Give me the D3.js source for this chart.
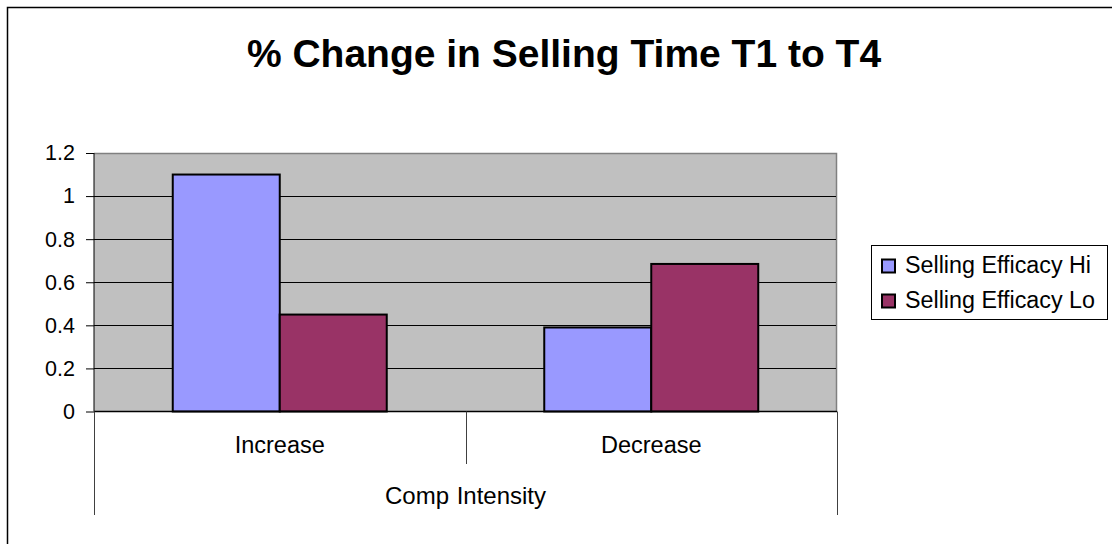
<!DOCTYPE html>
<html>
<head>
<meta charset="utf-8">
<script src="https://cdn.jsdelivr.net/npm/d3@7"></script>
<style>
  html, body { margin: 0; padding: 0; background: #fff; }
  svg { display: block; font-family: Arial, "Liberation Sans", sans-serif; }
</style>
</head>
<body>
<svg id="chart" width="1112" height="544"></svg>
<script>
// ---- data ----
const categories = ["Increase", "Decrease"];
const seriesNames = ["Selling Efficacy Hi", "Selling Efficacy Lo"];
const hiValues = [1.10, 0.39];
const loValues = [0.45, 0.685];
const seriesColors = ["#9999FF", "#993366"];
const yTickValues = [0, 0.2, 0.4, 0.6, 0.8, 1.0, 1.2];
const yTickLabels = ["0", "0.2", "0.4", "0.6", "0.8", "1", "1.2"];
const chartTitle = "% Change in Selling Time T1 to T4";
const axisTitle = "Comp Intensity";

// ---- layout ----
const svg = d3.select("#chart");
const plot = { left: 94, right: 837, top: 153, bottom: 411.5 };

// outer chart border (right/bottom cropped in reference)
svg.append("rect")
  .attr("x", 7.5).attr("y", 7.5)
  .attr("width", 1300).attr("height", 700)
  .attr("fill", "#fff").attr("stroke", "#000").attr("stroke-width", 1.5);

// title
svg.append("text")
  .attr("x", 564).attr("y", 66.5)
  .attr("text-anchor", "middle")
  .attr("font-size", 39).attr("font-weight", "bold")
  .text(chartTitle);

const y = d3.scaleLinear().domain([0, 1.2]).range([plot.bottom, plot.top]);
const x0 = d3.scaleBand().domain(categories).range([plot.left, plot.right]).paddingInner(0).paddingOuter(0);
const x1 = d3.scaleBand().domain(seriesNames).range([0, x0.bandwidth()]).paddingInner(0).paddingOuter(0.736);

// plot background
svg.append("rect")
  .attr("x", plot.left).attr("y", plot.top)
  .attr("width", plot.right - plot.left).attr("height", plot.bottom - plot.top)
  .attr("fill", "#C0C0C0");

// plot border top/right (gray)
svg.append("path")
  .attr("d", `M${plot.left},${plot.top + 0.5}H${plot.right - 0.5}V${plot.bottom}`)
  .attr("fill", "none").attr("stroke", "#808080").attr("stroke-width", 1.5);

// gridlines
svg.append("g")
  .selectAll("line")
  .data(yTickValues.filter(v => v > 0 && v < 1.2))
  .join("line")
  .attr("x1", plot.left).attr("x2", plot.right - 1)
  .attr("y1", d => Math.round(y(d)) + 0.5).attr("y2", d => Math.round(y(d)) + 0.5)
  .attr("stroke", "#000").attr("stroke-width", 1);

// bars
const seriesValues = [hiValues, loValues];
const barData = [];
categories.forEach((c, i) => {
  seriesNames.forEach((s, j) => {
    barData.push({ cat: c, series: s, value: seriesValues[j][i], color: seriesColors[j] });
  });
});
svg.append("g")
  .selectAll("rect")
  .data(barData)
  .join("rect")
  .attr("x", d => x0(d.cat) + x1(d.series))
  .attr("y", d => y(d.value))
  .attr("width", x1.bandwidth())
  .attr("height", d => y(0) - y(d.value))
  .attr("fill", d => d.color)
  .attr("stroke", "#000").attr("stroke-width", 2);

// y axis
const yAxis = d3.axisLeft(y)
  .tickValues(yTickValues)
  .tickFormat((d, i) => yTickLabels[i])
  .tickSize(8).tickPadding(11);
const yg = svg.append("g")
  .attr("transform", `translate(${plot.left},0)`)
  .call(yAxis);
yg.select(".domain").attr("stroke", "#000").attr("d", `M0,${plot.top}V${plot.bottom}`);
yg.selectAll(".tick line").attr("stroke", "#000");
yg.selectAll(".tick text")
  .attr("font-size", 21.5).attr("fill", "#000")
  .attr("font-family", 'Arial, "Liberation Sans", sans-serif');

// x axis baseline
svg.append("line")
  .attr("x1", plot.left).attr("x2", plot.right)
  .attr("y1", plot.bottom).attr("y2", plot.bottom)
  .attr("stroke", "#000").attr("stroke-width", 1.5);

// category separators
const sepX = [x0.range()[0], ...categories.slice(1).map(c => x0(c)), x0.range()[1]];
svg.append("g")
  .selectAll("line")
  .data(sepX)
  .join("line")
  .attr("x1", d => Math.round(d) + 0.5).attr("x2", d => Math.round(d) + 0.5)
  .attr("y1", plot.bottom)
  .attr("y2", (d, i) => (i === 0 || i === sepX.length - 1) ? 515 : 464)
  .attr("stroke", "#404040").attr("stroke-width", 1);

// category labels
svg.append("g")
  .selectAll("text")
  .data(categories)
  .join("text")
  .attr("x", d => x0(d) + x0.bandwidth() / 2)
  .attr("y", 453)
  .attr("text-anchor", "middle")
  .attr("font-size", 23.5)
  .text(d => d);

// axis title
svg.append("text")
  .attr("x", (plot.left + plot.right) / 2)
  .attr("y", 504)
  .attr("text-anchor", "middle")
  .attr("font-size", 24)
  .attr("word-spacing", 1)
  .text(axisTitle);

// legend
const legend = svg.append("g");
legend.append("rect")
  .attr("x", 871.5).attr("y", 245.5)
  .attr("width", 236).attr("height", 74)
  .attr("fill", "#fff").attr("stroke", "#000").attr("stroke-width", 1);
const items = legend.selectAll("g.item")
  .data(seriesNames)
  .join("g").attr("class", "item")
  .attr("transform", (d, i) => `translate(0,${i * 35})`);
items.append("rect")
  .attr("x", 882).attr("y", 259.5)
  .attr("width", 13).attr("height", 13)
  .attr("fill", (d, i) => seriesColors[i])
  .attr("stroke", "#000").attr("stroke-width", 2);
items.append("text")
  .attr("x", 905).attr("y", 273)
  .attr("font-size", 23.3)
  .text(d => d);
</script>
</body>
</html>
